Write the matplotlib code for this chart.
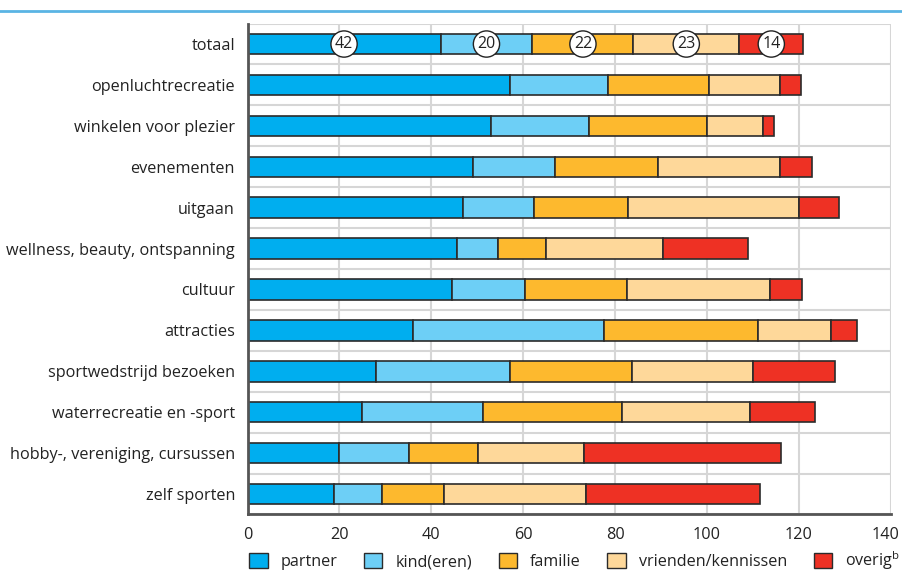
import numpy as np
import matplotlib
matplotlib.use("Agg")
import matplotlib.pyplot as plt
from matplotlib.patches import Patch
from matplotlib.lines import Line2D
from matplotlib.transforms import ScaledTranslation

plt.rcParams["font.family"] = ["Open Sans", "DejaVu Sans"]

categories = ["totaal", "openluchtrecreatie", "winkelen voor plezier", "evenementen",
              "uitgaan", "wellness, beauty, ontspanning", "cultuur", "attracties",
              "sportwedstrijd bezoeken", "waterrecreatie en -sport",
              "hobby-, vereniging, cursussen", "zelf sporten"]

partner   = [42, 57.2, 53.0, 49.0, 46.8, 45.5, 44.4, 36.0, 27.9, 24.8, 19.8, 18.9]
kinderen  = [20, 21.3, 21.3, 18.0, 15.5,  9.1, 16.0, 41.6, 29.2, 26.4, 15.3, 10.3]
familie   = [22, 22.0, 25.7, 22.3, 20.6, 10.4, 22.2, 33.6, 26.5, 30.4, 15.1, 13.5]
vrienden  = [23, 15.3, 12.2, 26.5, 37.2, 25.4, 31.1, 15.9, 26.5, 27.8, 23.0, 31.0]
overig    = [14,  4.7,  2.4,  7.0,  8.6, 18.5,  6.9,  5.6, 17.7, 14.2, 42.9, 37.8]

series_names = ["partner", "kind(eren)", "familie", "vrienden/kennissen",
                "overig$^\\mathregular{b}$"]
colors = ["#00aeef", "#6dcff6", "#fdb92e", "#fed89a", "#ee3124"]
total_labels = ["42", "20", "22", "23", "14"]

fig = plt.figure(figsize=(9.02, 5.82), dpi=100)
ax = fig.add_axes([0.2745, 0.116, 0.713, 0.8435])

# blue rule across the top
fig.add_artist(Line2D([0, 1], [1 - 11 / 582, 1 - 11 / 582], color="#5ab4e4", lw=2))

y = np.arange(len(categories))
left = np.zeros(len(categories))
for vals, col in zip([partner, kinderen, familie, vrienden, overig], colors):
    vals = np.array(vals)
    ax.barh(y, vals, left=left, height=0.5, color=col, edgecolor="#2b2b2b",
            linewidth=1.2, zorder=3)
    left += vals

# circled values on the totaal bar
start = 0
for vals, lab in zip([partner, kinderen, familie, vrienden, overig], total_labels):
    ax.text(start + vals[0] / 2, 0, lab, ha="center", va="center", fontsize=11.5,
            color="#222222", zorder=5,
            bbox=dict(boxstyle="circle,pad=0.25", fc="white", ec="#222222", lw=1))
    start += vals[0]

ax.set_xlim(0, 140)
ax.set_ylim(len(categories) - 0.5, -0.5)
ax.set_xticks(np.arange(0, 141, 20))
ax.set_yticks(y)
ax.set_yticklabels(categories)
ax.set_yticks(np.arange(-0.5, len(categories), 1), minor=True)
ax.tick_params(axis="both", length=0, labelsize=11.7, colors="#222222")
ax.tick_params(axis="x", pad=9)
ax.tick_params(axis="y", pad=9)
ax.tick_params(which="minor", length=0)

# last x label sits a little left of its gridline, as in the original
last = ax.get_xticklabels()[-1]
last.set_transform(last.get_transform() + ScaledTranslation(-0.05, 0, fig.dpi_scale_trans))

ax.grid(axis="x", color="#d6d6d6", lw=1.5, zorder=0)
ax.grid(axis="y", which="minor", color="#d6d6d6", lw=1.5, zorder=0)
ax.grid(axis="y", which="major", visible=False)

for s in ["top", "right"]:
    ax.spines[s].set_visible(False)
for s in ["left", "bottom"]:
    ax.spines[s].set_color("#555555")
    ax.spines[s].set_linewidth(2)
    ax.spines[s].set_zorder(4)

handles = [Patch(facecolor=c, edgecolor="#2b2b2b", linewidth=1) for c in colors]
fig.legend(handles, series_names, loc="lower left", bbox_to_anchor=(0.26, -0.008),
           ncol=5, frameon=False, fontsize=11.6, handlelength=1.15, handleheight=1.0,
           columnspacing=1.65, handletextpad=0.8, labelcolor="#222222")

fig.savefig("out.png", dpi=100)
